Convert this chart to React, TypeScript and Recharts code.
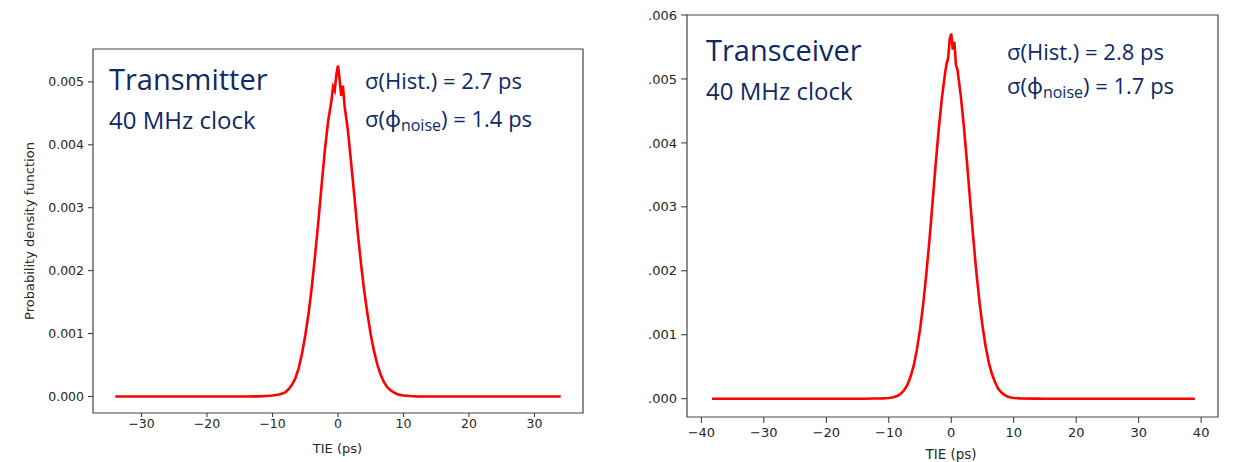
import { LineChart, Line, XAxis, YAxis, ReferenceArea } from 'recharts';

// Transmitter (left panel)
const txTie = [-34, -14, -12, -11, -10, -9.5, -9, -8.5, -8, -7.5, -7, -6.5, -6, -5.5, -5, -4.5, -4, -3.5, -3, -2.5, -2, -1.5, -1, -0.75, -0.5, -0.25, 0, 0.25, 0.5, 0.75, 1, 1.5, 2, 2.5, 3, 3.5, 4, 4.5, 5, 5.5, 6, 6.5, 7, 7.5, 8, 8.5, 9, 9.5, 10, 11, 12, 14, 34];
const txPdf = [0, 0, 0.000002, 0.000008, 0.000015, 0.000022, 0.00003, 0.000045, 0.00007, 0.00012, 0.00019, 0.00029, 0.00045, 0.00068, 0.00097, 0.00131, 0.00174, 0.00224, 0.00278, 0.00336, 0.00392, 0.00438, 0.0047, 0.00492, 0.00486, 0.00512, 0.00526, 0.00503, 0.00478, 0.00494, 0.00462, 0.00424, 0.00372, 0.00318, 0.00262, 0.00212, 0.00168, 0.00131, 0.00098, 0.00072, 0.00051, 0.00035, 0.00023, 0.00015, 0.0001, 0.000065, 0.00004, 0.000025, 0.000015, 0.000006, 0.000002, 0, 0];

// Transceiver (right panel)
const trxTie = [-38.3, -14, -12.5, -11, -10, -9.5, -9, -8.5, -8, -7.5, -7, -6.5, -6, -5.5, -5, -4.5, -4, -3.5, -3, -2.5, -2, -1.5, -1, -0.75, -0.5, -0.25, 0, 0.25, 0.5, 0.75, 1, 1.5, 2, 2.5, 3, 3.5, 4, 4.5, 5, 5.5, 6, 6.5, 7, 7.5, 8, 8.5, 9, 9.5, 10, 11, 13.5, 15, 39];
const trxPdf = [0, 0, 0.000003, 0.000006, 0.000012, 0.00002, 0.00003, 0.00005, 0.000085, 0.00014, 0.00022, 0.00035, 0.00052, 0.00077, 0.00108, 0.00147, 0.00194, 0.00247, 0.00306, 0.00366, 0.00422, 0.0047, 0.00508, 0.00524, 0.00532, 0.00562, 0.00571, 0.00546, 0.00558, 0.00522, 0.00514, 0.00476, 0.00428, 0.00372, 0.00312, 0.00254, 0.002, 0.00153, 0.00114, 0.00082, 0.00057, 0.00039, 0.00026, 0.00016, 0.0001, 0.00006, 0.000035, 0.00002, 0.000012, 0.000006, 0.000002, 0, 0];

const txXTicks = [-30, -20, -10, 0, 10, 20, 30];
const trxXTicks = [-40, -30, -20, -10, 0, 10, 20, 30, 40];
const txYTicks = [0, 0.001, 0.002, 0.003, 0.004, 0.005];
const trxYTicks = [0, 0.001, 0.002, 0.003, 0.004, 0.005, 0.006];

const txData = txTie.map((t, i) => ({ tie: t, pdf: txPdf[i] }));
const trxData = trxTie.map((t, i) => ({ tie: t, pdf: trxPdf[i] }));

const tickFont = 'DejaVu Sans, sans-serif';
const navy = '#0d2a66';
const textFont = '"Open Sans", "Noto Sans", sans-serif';

const fmtX = (v: number) => (v < 0 ? '\u2212' + Math.abs(v) : String(v));
const fmtY = (v: number) => v.toFixed(3);
// the right picture is cropped so its labels lose the leading zero
const fmtYCropped = (v: number) => v.toFixed(3).slice(1);

export default function App() {
  const txX: [number, number] = [-37.4, 37.4];
  const txY: [number, number] = [-0.000263, 0.005523];
  const trxX: [number, number] = [-42.3, 42.7];
  const trxY: [number, number] = [-0.000286, 0.006];

  return (
    <div style={{ position: 'absolute', left: 0, top: 0, width: 1235, height: 462, background: '#fff', overflow: 'hidden' }}>
      {/* left panel */}
      <div style={{ position: 'absolute', left: 0, top: 0 }}>
        <LineChart width={600} height={462} data={txData} margin={{ top: 49, right: 17, bottom: 19, left: 33 }}>
          <XAxis
            dataKey="tie"
            type="number"
            domain={txX}
            ticks={txXTicks}
            allowDataOverflow
            tickFormatter={fmtX}
            height={30}
            tickSize={4}
            tickMargin={2}
            axisLine={false}
            tickLine={{ stroke: '#333' }}
            tick={{ fill: '#262626', fontSize: 12.5, fontFamily: tickFont }}
          />
          <YAxis
            type="number"
            domain={txY}
            ticks={txYTicks}
            allowDataOverflow
            tickFormatter={fmtY}
            width={60}
            tickSize={5}
            tickMargin={4}
            axisLine={false}
            tickLine={{ stroke: '#333' }}
            tick={{ fill: '#262626', fontSize: 12.5, fontFamily: tickFont }}
          />
          <ReferenceArea x1={txX[0]} x2={txX[1]} y1={txY[0]} y2={txY[1]} fill="none" stroke="#444" strokeWidth={1.2} />
          <Line dataKey="pdf" type="linear" stroke="#ff0000" strokeWidth={2.6} dot={false} isAnimationActive={false} />
        </LineChart>
      </div>

      {/* right panel */}
      <div style={{ position: 'absolute', left: 600, top: 0 }}>
        <LineChart width={635} height={462} data={trxData} margin={{ top: 15, right: 17, bottom: 15, left: 27 }}>
          <XAxis
            dataKey="tie"
            type="number"
            domain={trxX}
            ticks={trxXTicks}
            allowDataOverflow
            tickFormatter={fmtX}
            height={30}
            tickSize={6}
            tickMargin={5}
            axisLine={false}
            tickLine={{ stroke: '#333' }}
            tick={{ fill: '#262626', fontSize: 13, fontFamily: tickFont }}
          />
          <YAxis
            type="number"
            domain={trxY}
            ticks={trxYTicks}
            allowDataOverflow
            tickFormatter={fmtYCropped}
            width={60}
            tickSize={6}
            tickMargin={4}
            axisLine={false}
            tickLine={{ stroke: '#333' }}
            tick={{ fill: '#262626', fontSize: 13, fontFamily: tickFont }}
          />
          <ReferenceArea x1={trxX[0]} x2={trxX[1]} y1={trxY[0]} y2={trxY[1]} fill="none" stroke="#444" strokeWidth={1.2} />
          <Line dataKey="pdf" type="linear" stroke="#ff0000" strokeWidth={2.6} dot={false} isAnimationActive={false} />
        </LineChart>
      </div>

      {/* axis titles and annotations */}
      <svg width={1235} height={462} style={{ position: 'absolute', left: 0, top: 0, pointerEvents: 'none' }}>
        <text x={30} y={231} transform="rotate(-90 30 231)" textAnchor="middle" dominantBaseline="middle" fontFamily={tickFont} fontSize={13} fill="#262626">
          Probability density function
        </text>
        <text x={337.5} y={453} textAnchor="middle" fontFamily={tickFont} fontSize={13} fill="#262626">TIE (ps)</text>
        <text x={951} y={459} textAnchor="middle" fontFamily={tickFont} fontSize={13.5} fill="#262626">TIE (ps)</text>

        <text x={109} y={90} fontFamily={textFont} fontSize={29} fill={navy}>Transmitter</text>
        <text x={109} y={129} fontFamily={textFont} fontSize={24} fill={navy}>40 MHz clock</text>
        <text x={365} y={89} fontFamily={textFont} fontSize={22} fill={navy}>σ(Hist.) = 2.7 ps</text>
        <text x={365} y={127} fontFamily={textFont} fontSize={22} fill={navy}>
          σ(ϕ<tspan fontSize={16} dy={4}>noise</tspan><tspan dy={-4}>) = 1.4 ps</tspan>
        </text>

        <text x={706} y={61} fontFamily={textFont} fontSize={29} fill={navy}>Transceiver</text>
        <text x={706} y={100} fontFamily={textFont} fontSize={24} fill={navy}>40 MHz clock</text>
        <text x={1007} y={60} fontFamily={textFont} fontSize={22} fill={navy}>σ(Hist.) = 2.8 ps</text>
        <text x={1007} y={94} fontFamily={textFont} fontSize={22} fill={navy}>
          σ(ϕ<tspan fontSize={16} dy={4}>noise</tspan><tspan dy={-4}>) = 1.7 ps</tspan>
        </text>
      </svg>
    </div>
  );
}
